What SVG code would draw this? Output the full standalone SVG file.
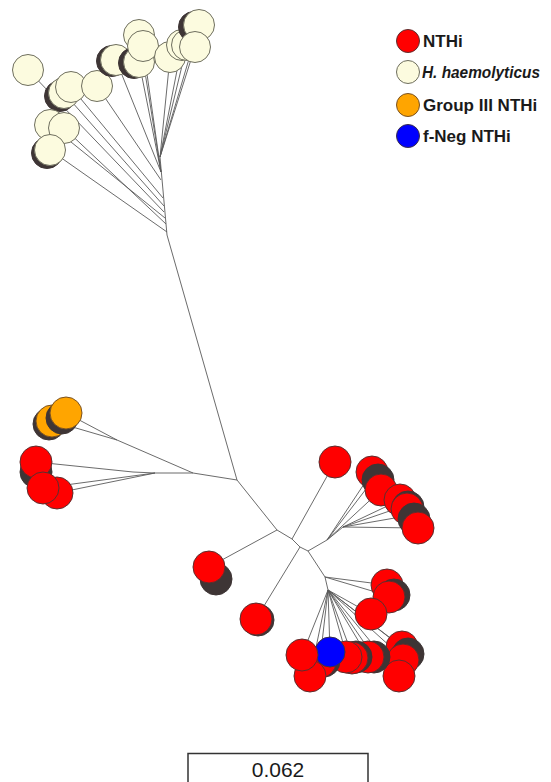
<svg xmlns="http://www.w3.org/2000/svg" width="551" height="782" viewBox="0 0 551 782">
<style>
.l{stroke:#5a5a5a;stroke-width:0.9;fill:none}
.r{fill:#ff0000;stroke:#5b2f2f;stroke-width:1}
.h{fill:#fcfbdf;stroke:#6e6e5e;stroke-width:1}
.o{fill:#ffa500;stroke:#7a5222;stroke-width:1}
.b{fill:#0000ff;stroke:#3a2f4a;stroke-width:1}
.d{fill:#3e3535;stroke:#3e3535;stroke-width:1}
.t{font-family:"Liberation Sans",Arial,sans-serif;font-weight:bold;font-size:17px;fill:#1a1a1a}
.s{font-family:"Liberation Sans",Arial,sans-serif;font-size:21px;fill:#1a1a1a}
</style>
<rect width="551" height="782" fill="#ffffff"/>
<g id="connectors">
<path class="l" d="M160,157 L167,235 L237,480"/>
<path class="l" d="M167,232 L50,150 M166,224 L64,128 M165,218 L50,125 M164,212 L28,70 M164,206 L64,93 M163,198 L71,87 M161,180 L97,86"/>
<path class="l" d="M161,172 L116,60 M161,172 L139,62 M161,172 L139,35 M161,172 L143,46"/>
<path class="l" d="M160,157 L170,57 M160,157 L182,45 M160,157 L195,47 M160,157 L199,25 M160,157 L187,45"/>
<path class="l" d="M237,480 L193,473 L117,440 M117,440 L52,421 M117,440 L66,413"/>
<path class="l" d="M193,473 L155,473 L133,472 L36,462 M155,473 L43,488 M155,473 L57,493"/>
<path class="l" d="M237,480 L277,530 L209,567 M277,530 L292,539 L335,462 M292,539 L300,547 L256,619 M300,547 L308,551 L327,540 M308,551 L325,577"/>
<path class="l" d="M327,540 L372,472 M327,540 L376,476 M327,540 L381,490 M327,540 L343,527 L400,500 M343,527 L407,505 M343,527 L412,515 M343,527 L418,528"/>
<path class="l" d="M325,577 L387,585 M325,577 L389,596 M325,577 L328,590 L371,614 M328,590 L402,647 M328,590 L408,652 M328,590 L403,658 M328,590 L399,676"/>
<path class="l" d="M328,590 L302,655 M328,590 L310,676 M328,590 L320,660 M328,590 L330,652 M328,590 L347,657 M328,590 L353,657 M328,590 L368,657 M328,590 L374,657"/>
</g>
<g id="hh-1"><circle class="h" cx="28" cy="70" r="15.5"/></g>
<g id="hh-2"><circle class="d" cx="60" cy="96" r="15.5"/><circle class="h" cx="64" cy="93" r="15.5"/></g>
<g id="hh-3"><circle class="h" cx="71" cy="87" r="15.5"/></g>
<g id="hh-4"><circle class="h" cx="97" cy="86" r="15.5"/></g>
<g id="hh-5"><circle class="h" cx="50" cy="125" r="15.5"/></g>
<g id="hh-6"><circle class="h" cx="64" cy="128" r="15.5"/></g>
<g id="hh-7"><circle class="d" cx="47" cy="153" r="15.5"/><circle class="h" cx="50" cy="150" r="15.5"/></g>
<g id="hh-8"><circle class="d" cx="112" cy="61" r="15.5"/><circle class="h" cx="116" cy="60" r="15.5"/></g>
<g id="hh-9"><circle class="d" cx="134" cy="63" r="15.5"/><circle class="h" cx="139" cy="62" r="15.5"/></g>
<g id="hh-10"><circle class="h" cx="139" cy="35" r="15.5"/></g>
<g id="hh-11"><circle class="h" cx="143" cy="46" r="15.5"/></g>
<g id="hh-12"><circle class="h" cx="170" cy="57" r="15.5"/></g>
<g id="hh-13"><circle class="h" cx="182" cy="45" r="15.5"/><circle class="h" cx="187" cy="45" r="15.5"/></g>
<g id="hh-14"><circle class="d" cx="194" cy="27" r="15.5"/><circle class="h" cx="199" cy="25" r="15.5"/></g>
<g id="hh-15"><circle class="h" cx="195" cy="47" r="15.5"/></g>
<g id="g3-1"><circle class="d" cx="49" cy="424" r="16"/><circle class="o" cx="52" cy="421" r="16"/></g>
<g id="g3-2"><circle class="d" cx="62" cy="418" r="16"/><circle class="o" cx="66" cy="413" r="16"/></g>
<g id="nt-l1"><circle class="d" cx="36" cy="472" r="16"/><circle class="r" cx="36" cy="462" r="16"/></g>
<g id="nt-l2"><circle class="r" cx="57" cy="493" r="16"/></g>
<g id="nt-l3"><circle class="r" cx="43" cy="488" r="16"/></g>
<g id="nt-m1"><circle class="d" cx="216" cy="579" r="16"/><circle class="r" cx="209" cy="567" r="16"/></g>
<g id="nt-m2"><circle class="d" cx="258" cy="620" r="16"/><circle class="r" cx="256" cy="619" r="16"/></g>
<g id="nt-m3"><circle class="r" cx="335" cy="462" r="16"/></g>
<g id="nt-u1"><circle class="r" cx="372" cy="472" r="16"/></g>
<g id="nt-u2"><circle class="d" cx="378" cy="480" r="16"/><circle class="r" cx="381" cy="490" r="16"/></g>
<g id="nt-u3"><circle class="r" cx="400" cy="500" r="16"/></g>
<g id="nt-u4"><circle class="d" cx="408" cy="507" r="16"/><circle class="r" cx="407" cy="509" r="16"/></g>
<g id="nt-u5"><circle class="d" cx="414" cy="519" r="16"/><circle class="r" cx="418" cy="528" r="16"/></g>
<g id="nt-p1"><circle class="r" cx="387" cy="585" r="16"/></g>
<g id="nt-p2"><circle class="d" cx="394" cy="595" r="16"/><circle class="r" cx="389" cy="597" r="16"/></g>
<g id="nt-p3"><circle class="r" cx="371" cy="614" r="16"/></g>
<g id="nt-q1"><circle class="r" cx="402" cy="647" r="16"/></g>
<g id="nt-q2"><circle class="d" cx="408" cy="654" r="16"/><circle class="r" cx="403" cy="660" r="16"/></g>
<g id="nt-q3"><circle class="r" cx="399" cy="676" r="16"/></g>
<g id="nt-b1"><circle class="d" cx="374" cy="657" r="16"/><circle class="r" cx="368" cy="657" r="16"/></g>
<g id="nt-b2"><circle class="d" cx="356" cy="657" r="16"/><circle class="r" cx="352" cy="658" r="16"/></g>
<g id="nt-b3"><circle class="r" cx="346" cy="657" r="16"/></g>
<g id="nt-b4"><circle class="d" cx="324" cy="661" r="16"/><circle class="r" cx="320" cy="662" r="16"/></g>
<g id="fneg"><circle class="b" cx="330" cy="652" r="15"/></g>
<g id="nt-b5"><circle class="r" cx="310" cy="676" r="16"/></g>
<g id="nt-b6"><circle class="r" cx="302" cy="655" r="16"/></g>
<g id="legend">
<circle class="r" cx="408" cy="41" r="11.5"/><text class="t" x="423" y="47">NTHi</text>
<circle class="h" cx="408" cy="72" r="11.5"/><text class="t" x="422" y="78" font-style="italic" font-size="16" textLength="118" lengthAdjust="spacingAndGlyphs">H. haemolyticus</text>
<circle class="o" cx="408" cy="105" r="11.5"/><text class="t" x="423" y="111">Group III NTHi</text>
<circle class="b" cx="408" cy="136" r="11.5"/><text class="t" x="423" y="142">f-Neg NTHi</text>
</g>
<g id="scale">
<path d="M188,782 V753.5 H368 V782" fill="none" stroke="#333" stroke-width="1.5"/>
<text class="s" x="278" y="777" text-anchor="middle">0.062</text>
</g>
</svg>
